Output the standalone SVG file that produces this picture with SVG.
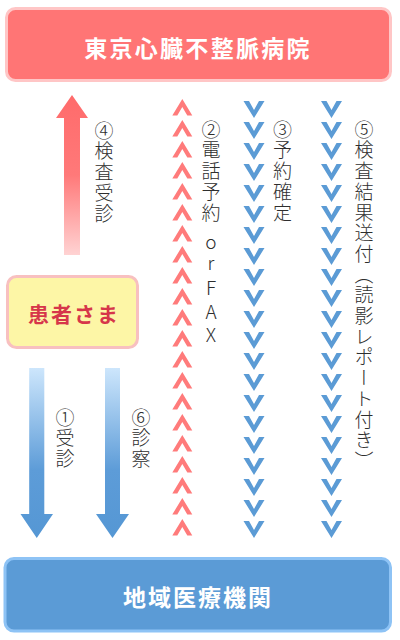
<svg xmlns="http://www.w3.org/2000/svg" width="400" height="640" viewBox="0 0 400 640">
<style>
.box-title{font-family:"Noto Sans CJK JP","Noto Sans",sans-serif;font-weight:700;fill:#ffffff;text-anchor:middle}
.v{font-family:"Noto Sans CJK JP","Noto Sans",sans-serif;font-size:19px;font-weight:300;fill:#2e2e2e;writing-mode:vertical-rl;letter-spacing:1.7px}
.up{text-orientation:upright}
.red{fill:#ff7b7b}
.blue{fill:#5b9bd5}
</style>
<defs>
<linearGradient id="gUp" gradientUnits="userSpaceOnUse" x1="0" y1="95" x2="0" y2="255">
<stop offset="0" stop-color="#ff6b6b"/>
<stop offset="0.5" stop-color="#ff7979"/>
<stop offset="1" stop-color="#ffd3d3"/>
</linearGradient>
<linearGradient id="gDown" gradientUnits="userSpaceOnUse" x1="0" y1="368" x2="0" y2="538">
<stop offset="0" stop-color="#cde6fc"/>
<stop offset="0.6" stop-color="#5d9cd8"/>
<stop offset="1" stop-color="#5597d4"/>
</linearGradient>
<polygon id="chevUp" points="0,0 10,16.5 5,16.5 0,8 -5,16.5 -10,16.5"/>
<polygon id="chevDown" points="-10.5,0 -5,0 0,9 5,0 10.5,0 0,17"/>
</defs>

<g id="hospital">
<rect x="6.5" y="8.5" width="384" height="72" rx="9" fill="#ff7575" stroke="#ffc6c6" stroke-width="3"/>
<text class="box-title" x="198" y="56.5" font-size="23" letter-spacing="2.3">東京心臓不整脈病院</text>
</g>

<g id="clinic">
<rect x="5" y="558.5" width="385.5" height="72.5" rx="9" fill="#5b9bd6" stroke="#8ec3f5" stroke-width="3"/>
<text class="box-title" x="198" y="605.5" font-size="23" letter-spacing="2">地域医療機関</text>
</g>

<g id="patient">
<rect x="7.5" y="276.5" width="130" height="71" rx="9" fill="#fdf6a6" stroke="#f8c0c0" stroke-width="3"/>
<text x="74" y="321.5" font-family="'Noto Sans CJK JP','Noto Sans',sans-serif" font-weight="700" font-size="21" letter-spacing="2" fill="#d6364a" text-anchor="middle">患者さま</text>
</g>

<g id="connectors">
<polygon fill="url(#gUp)" points="64,255 64,118 56,118 72,95 88,118 80,118 80,255"/>
<polygon fill="url(#gDown)" points="29.2,368 44.3,368 44.3,514 53,514 36.75,538 20.5,514 29.2,514"/>
<polygon fill="url(#gDown)" points="105,368 120,368 120,514 129,514 112.5,538 96,514 105,514"/>
<g class="red">
<use href="#chevUp" x="182.3" y="99"/><use href="#chevUp" x="182.3" y="120"/><use href="#chevUp" x="182.3" y="141"/><use href="#chevUp" x="182.3" y="162"/><use href="#chevUp" x="182.3" y="183"/><use href="#chevUp" x="182.3" y="204"/><use href="#chevUp" x="182.3" y="225"/><use href="#chevUp" x="182.3" y="246"/><use href="#chevUp" x="182.3" y="267"/><use href="#chevUp" x="182.3" y="288"/><use href="#chevUp" x="182.3" y="309"/><use href="#chevUp" x="182.3" y="330"/><use href="#chevUp" x="182.3" y="351"/><use href="#chevUp" x="182.3" y="372"/><use href="#chevUp" x="182.3" y="393"/><use href="#chevUp" x="182.3" y="414"/><use href="#chevUp" x="182.3" y="435"/><use href="#chevUp" x="182.3" y="456"/><use href="#chevUp" x="182.3" y="477"/><use href="#chevUp" x="182.3" y="498"/><use href="#chevUp" x="182.3" y="519"/>
</g>
<g class="blue">
<use href="#chevDown" x="254" y="101"/><use href="#chevDown" x="254" y="122"/><use href="#chevDown" x="254" y="143"/><use href="#chevDown" x="254" y="164"/><use href="#chevDown" x="254" y="185"/><use href="#chevDown" x="254" y="206"/><use href="#chevDown" x="254" y="227"/><use href="#chevDown" x="254" y="248"/><use href="#chevDown" x="254" y="269"/><use href="#chevDown" x="254" y="290"/><use href="#chevDown" x="254" y="311"/><use href="#chevDown" x="254" y="332"/><use href="#chevDown" x="254" y="353"/><use href="#chevDown" x="254" y="374"/><use href="#chevDown" x="254" y="395"/><use href="#chevDown" x="254" y="416"/><use href="#chevDown" x="254" y="437"/><use href="#chevDown" x="254" y="458"/><use href="#chevDown" x="254" y="479"/><use href="#chevDown" x="254" y="500"/><use href="#chevDown" x="254" y="521"/>
<use href="#chevDown" x="331.5" y="101"/><use href="#chevDown" x="331.5" y="122"/><use href="#chevDown" x="331.5" y="143"/><use href="#chevDown" x="331.5" y="164"/><use href="#chevDown" x="331.5" y="185"/><use href="#chevDown" x="331.5" y="206"/><use href="#chevDown" x="331.5" y="227"/><use href="#chevDown" x="331.5" y="248"/><use href="#chevDown" x="331.5" y="269"/><use href="#chevDown" x="331.5" y="290"/><use href="#chevDown" x="331.5" y="311"/><use href="#chevDown" x="331.5" y="332"/><use href="#chevDown" x="331.5" y="353"/><use href="#chevDown" x="331.5" y="374"/><use href="#chevDown" x="331.5" y="395"/><use href="#chevDown" x="331.5" y="416"/><use href="#chevDown" x="331.5" y="437"/><use href="#chevDown" x="331.5" y="458"/><use href="#chevDown" x="331.5" y="479"/><use href="#chevDown" x="331.5" y="500"/><use href="#chevDown" x="331.5" y="521"/>
</g>
</g>

<g id="labels">
<text class="v" x="104" y="121">④検査受診</text>
<text class="v up" x="211" y="120">②電話予約<tspan y="231.6">or</tspan><tspan y="278.6" letter-spacing="4.5">FAX</tspan></text>
<text class="v" x="282.5" y="120">③予約確定</text>
<text class="v" x="364" y="120">⑤検査結果送付（読影レポート付き）</text>
<text class="v" x="65" y="408">①受診</text>
<text class="v" x="141" y="408">⑥診察</text>
</g>
</svg>
